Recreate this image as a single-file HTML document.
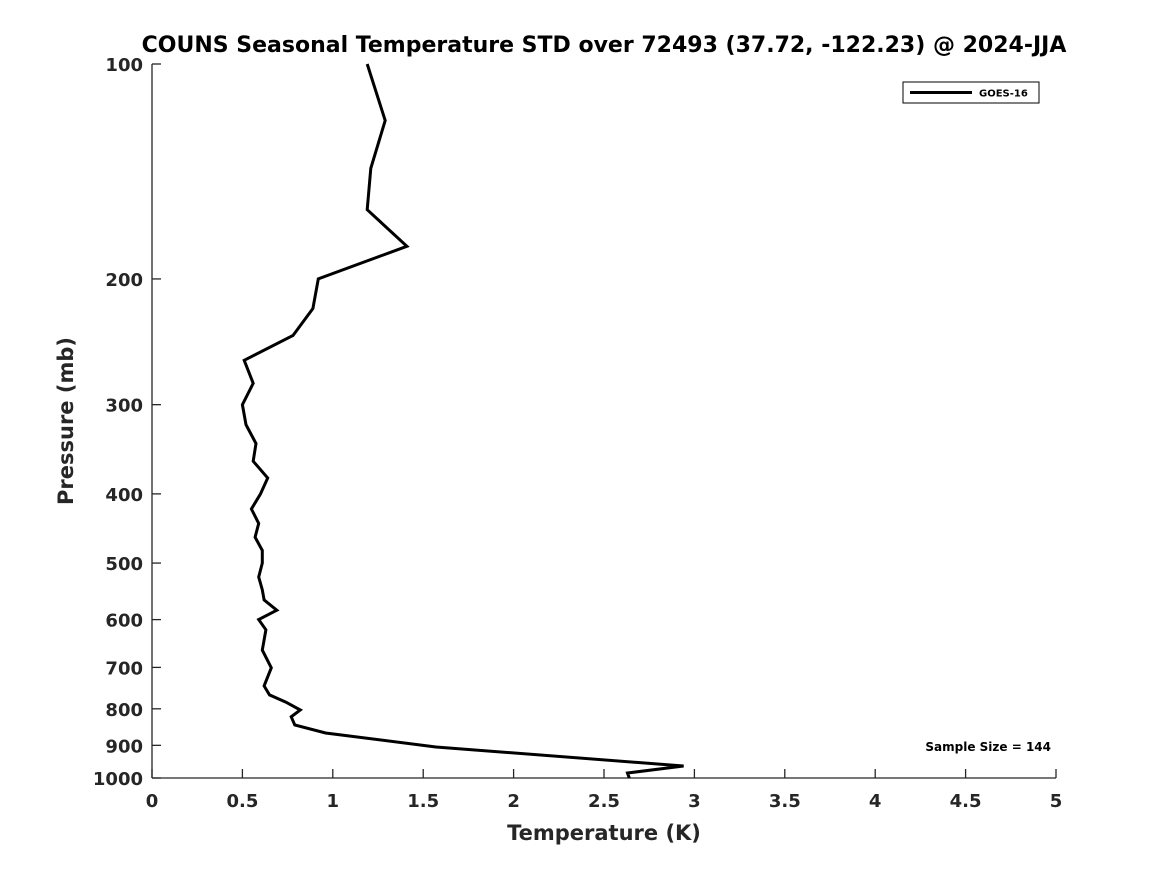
<!DOCTYPE html>
<html><head><meta charset="utf-8"><style>
html,body{margin:0;padding:0;background:#fff;}
svg{display:block;font-family:"DejaVu Sans","Liberation Sans",sans-serif;font-weight:bold;}
</style></head><body>
<svg id="chart" width="1167" height="875" xmlns="http://www.w3.org/2000/svg">
<rect width="1167" height="875" fill="#fff"/>
<text x="604" y="52" text-anchor="middle" font-size="22" fill="#000">COUNS Seasonal Temperature STD over 72493 (37.72, -122.23) @ 2024-JJA</text>
<g id="axes"></g>
<path id="series-goes16" fill="none" stroke="#000" stroke-width="3" stroke-linejoin="miter"/>
<text x="604" y="840" text-anchor="middle" font-size="21" fill="#262626">Temperature (K)</text>
<text transform="translate(73,421) rotate(-90)" text-anchor="middle" font-size="21" fill="#262626">Pressure (mb)</text>
<g>
<rect x="903" y="82" width="136" height="21" fill="#fff" stroke="#000" stroke-width="1"/>
<line x1="910" y1="92.5" x2="972" y2="92.5" stroke="#000" stroke-width="3"/>
<text x="979" y="96.5" font-size="10" fill="#000">GOES-16</text>
</g>
<text x="1051" y="751" text-anchor="end" font-size="12" fill="#000">Sample Size = 144</text>
</svg>
<script>
const pressures = [100,120,140,160,180,200,220,240,260,280,300,320,340,360,380,400,420,440,460,480,500,523,545,563,582,600,620,662,701,743,765,783,803,821,843,865,905,962,984,1000];
const temps = [1.19,1.29,1.21,1.19,1.41,0.92,0.89,0.78,0.51,0.56,0.50,0.52,0.575,0.56,0.64,0.60,0.55,0.59,0.57,0.61,0.61,0.59,0.61,0.62,0.69,0.59,0.63,0.61,0.66,0.62,0.65,0.74,0.82,0.77,0.79,0.96,1.57,2.94,2.63,2.64];
const xTicks = [0,0.5,1,1.5,2,2.5,3,3.5,4,4.5,5];
const xTickLabels = ["0","0.5","1","1.5","2","2.5","3","3.5","4","4.5","5"];
const yTicks = [100,200,300,400,500,600,700,800,900,1000];
const yTickLabels = ["100","200","300","400","500","600","700","800","900","1000"];

const X0=152, X1=1056, Y0=64, Y1=778;
function xs(t){return X0+(t-0)/(5-0)*(X1-X0);}
function ys(p){return Y0+(Math.log10(p)-2)/(1)*(Y1-Y0);}
const NS="http://www.w3.org/2000/svg";
const axes=document.getElementById('axes');
function mk(tag,attrs){const e=document.createElementNS(NS,tag);for(const k in attrs)e.setAttribute(k,attrs[k]);return e;}
let a=mk('line',{x1:X0,y1:Y0,x2:X0,y2:Y1,stroke:'#262626','stroke-width':1.3});


axes.appendChild(a);
a=mk('line',{x1:X0,y1:Y1,x2:X1,y2:Y1,stroke:'#262626','stroke-width':1.3});


axes.appendChild(a);
xTicks.forEach((t,i)=>{
  const x=xs(t);
  const tk=mk('line',{x1:x,y1:Y1,x2:x,y2:Y1-9,stroke:'#262626','stroke-width':1.3});
  
  
  axes.appendChild(tk);
  const tx=mk('text',{x:x,y:807,'text-anchor':'middle','font-size':18,fill:'#262626'});
  tx.textContent=xTickLabels[i];
  
  
  axes.appendChild(tx);
});
yTicks.forEach((p,i)=>{
  const y=ys(p);
  const tk=mk('line',{x1:X0,y1:y,x2:X0+9,y2:y,stroke:'#262626','stroke-width':1.3});
  
  
  axes.appendChild(tk);
  const tx=mk('text',{x:143,y:y+7,'text-anchor':'end','font-size':18,fill:'#262626'});
  tx.textContent=yTickLabels[i];
  
  
  axes.appendChild(tx);
});
const d=pressures.map((p,i)=>(i?'L':'M')+xs(temps[i]).toFixed(1)+','+ys(p).toFixed(1)).join(' ');
document.getElementById('series-goes16').setAttribute('d',d);
</script>
</body></html>
